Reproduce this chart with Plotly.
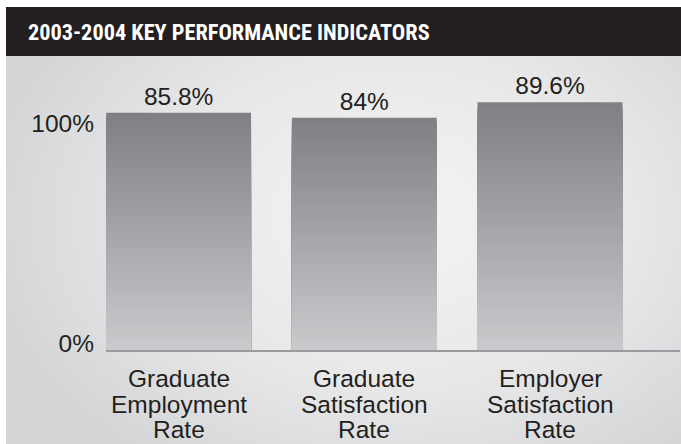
import base64
import plotly.graph_objects as go

# ---- data ----
title_text = "2003-2004 KEY PERFORMANCE INDICATORS"
categories = ["Graduate Employment Rate", "Graduate Satisfaction Rate", "Employer Satisfaction Rate"]
category_lines = [["Graduate", "Employment", "Rate"],
                  ["Graduate", "Satisfaction", "Rate"],
                  ["Employer", "Satisfaction", "Rate"]]
values = [85.8, 84.0, 89.6]
value_labels = ["85.8%", "84%", "89.6%"]
y_tick_labels = ["0%", "100%"]
y_tick_vals = [2.5, 82]

W, H = 681, 444
TEXT = "#231f20"
FONT = "Liberation Sans, Arial, sans-serif"


def hex_to_rgb(h):
    h = h.lstrip("#")
    return tuple(int(h[i:i + 2], 16) for i in (0, 2, 4))


def lerp(c1, c2, t):
    a, b = hex_to_rgb(c1), hex_to_rgb(c2)
    return "rgb(%d,%d,%d)" % tuple(round(a[i] + (b[i] - a[i]) * t) for i in range(3))


TOP_COL, BOT_COL = "#7f8085", "#c9cacc"
N = 60

fig = go.Figure()
for k in range(N):
    frac = (N - k) / N
    t = k / (N - 1)
    fig.add_trace(go.Bar(
        x=categories,
        y=[v * frac for v in values],
        marker=dict(color=lerp(TOP_COL, BOT_COL, t), line=dict(width=0)),
        text=value_labels if k == 0 else None,
        textposition="outside" if k == 0 else "none",
        textfont=dict(family=FONT, size=24.5, color=TEXT),
        cliponaxis=False,
        hoverinfo="skip" if k else "x+y",
        showlegend=False,
    ))

# category labels, line by line (tight line spacing)
annotations = []
line_offsets = [-28, -54, -79.5]
for cat, lines in zip(categories, category_lines):
    for off, ln in zip(line_offsets, lines):
        annotations.append(dict(
            x=cat, y=0, xref="x", yref="y", text=ln, showarrow=False,
            yanchor="middle", xanchor="center", yshift=off,
            font=dict(family=FONT, size=24.5, color=TEXT)))

# header title
annotations.append(dict(
    x=26 / W, y=(H - 31.5) / H, xref="paper", yref="paper", text="<b>" + title_text + "</b>",
    showarrow=False, xanchor="left", yanchor="middle",
    font=dict(family="Liberation Sans Narrow, Arial Narrow, Roboto Condensed, sans-serif",
              size=22.3, color="white")))

# background gradient as SVG image
svg = f'''<svg xmlns="http://www.w3.org/2000/svg" width="675" height="388" viewBox="0 0 675 388">
<defs><radialGradient id="g" cx="0.58" cy="0.42" r="0.62" gradientTransform="translate(0.58,0.42) scale(1,1.25) translate(-0.58,-0.42)">
<stop offset="0" stop-color="#f4f4f4"/><stop offset="0.55" stop-color="#e8e8e9"/><stop offset="1" stop-color="#d4d5d7"/></radialGradient></defs>
<rect width="675" height="388" fill="url(#g)"/></svg>'''
src = "data:image/svg+xml;base64," + base64.b64encode(svg.encode()).decode()

fig.update_layout(
    width=W, height=H,
    margin=dict(l=0, r=0, t=0, b=0),
    paper_bgcolor="white",
    plot_bgcolor="rgba(0,0,0,0)",
    barmode="overlay",
    bargap=0.22,
    showlegend=False,
    xaxis=dict(domain=[106 / W, 680 / W], range=[-0.391, 2.70], showticklabels=False,
               showgrid=False, zeroline=False, showline=True, linecolor="#9a9b9e", linewidth=2,
               fixedrange=True),
    yaxis=dict(domain=[(H - 350) / H, (H - 73.5) / H], range=[0, 100], tickvals=y_tick_vals,
               ticktext=y_tick_labels, showgrid=False, zeroline=False, showline=False,
               ticks="", ticklabelstandoff=11, automargin=False,
               tickfont=dict(family=FONT, size=24.5, color=TEXT), fixedrange=True),
    shapes=[dict(type="rect", xref="paper", yref="paper", x0=6 / W, x1=1.0,
                 y0=(H - 56) / H, y1=(H - 7) / H, fillcolor="#231f20", line=dict(width=0),
                 layer="above")],
    images=[dict(source=src, xref="paper", yref="paper", x=6 / W, y=(H - 56) / H,
                 sizex=675 / W, sizey=388 / H, sizing="stretch", layer="below",
                 xanchor="left", yanchor="top")],
    annotations=annotations,
)

fig.write_html("out.html", config={"displayModeBar": False},
               post_script="document.body.style.margin='0';document.body.style.overflow='hidden';")
